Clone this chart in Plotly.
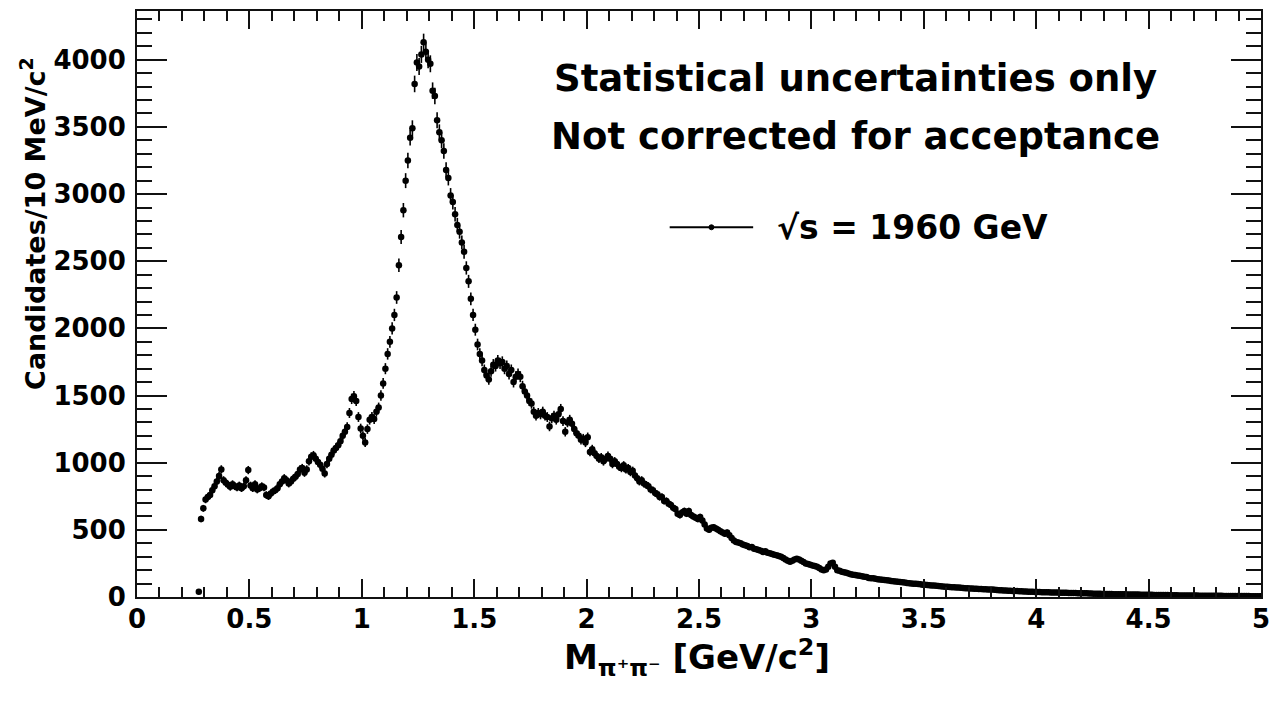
import numpy as np
import plotly.graph_objects as go

# Binning of the pi+pi- invariant-mass histogram (10 MeV bins)
bin_start = 0.275      # centre of the first filled bin [GeV/c^2]
bin_width = 0.01

# Candidates per bin, grouped by mass region
counts_threshold = [  # 0.275 - 0.995
    40,
    580, 660, 725, 745, 760, 795, 825, 860, 900, 950,
    870, 850, 835, 820, 840, 825, 815, 830, 810, 825,
    870, 945, 830, 810, 840, 800, 810, 825, 815, 760,
    750, 770, 785, 795, 810, 840, 860, 885, 870, 845,
    860, 880, 895, 915, 950, 960, 925, 950, 1010, 1045,
    1055, 1030, 1005, 985, 955, 920, 990, 1030, 1060, 1090,
    1110, 1130, 1160, 1200, 1230, 1265, 1370, 1475, 1495, 1460,
    1340, 1255,
]
counts_f2 = [  # 1.005 - 1.995
    1200, 1150, 1250, 1320, 1340, 1325, 1380, 1410, 1500, 1590,
    1700, 1810, 1900, 2000, 2100, 2230, 2470, 2680, 2880, 3100,
    3250, 3420, 3490, 3820, 3980, 3950, 4040, 4130, 4060, 4000,
    3970, 3770, 3730, 3550, 3460, 3400, 3320, 3180, 3120, 2990,
    2940, 2850, 2770, 2720, 2640, 2570, 2450, 2350, 2220, 2100,
    1990, 1880, 1810, 1760, 1690, 1650, 1620, 1680, 1730, 1720,
    1760, 1740, 1750, 1700, 1720, 1660, 1690, 1600, 1640, 1660,
    1640, 1570, 1530, 1500, 1460, 1440, 1380, 1350, 1370, 1360,
    1380, 1350, 1340, 1270, 1330, 1350, 1320, 1360, 1400, 1310,
    1230, 1300, 1320, 1290, 1250, 1220, 1200, 1170, 1180, 1150,
]
counts_continuum = [  # 2.005 - 2.995
    1190, 1080, 1100, 1070, 1050, 1030, 1040, 1010, 1030, 1050,
    1030, 990, 1010, 990, 970, 960, 980, 950, 960, 930,
    940, 905, 885, 860, 870, 845, 835, 825, 800, 795,
    775, 765, 745, 745, 715, 715, 695, 685, 665, 655,
    620, 610, 630, 640, 620, 640, 610, 600, 590, 580,
    595, 570, 540, 510, 500, 515, 520, 510, 500, 490,
    480, 470, 480, 460, 440, 420, 410, 405, 400, 390,
    385, 380, 370, 372, 360, 355, 350, 345, 335, 340,
    330, 325, 320, 315, 310, 305, 300, 290, 280, 270,
    262, 270, 280, 285, 280, 270, 260, 250, 245, 240,
]
counts_jpsi = [  # 3.005 - 3.495
    235, 230, 225, 215, 205, 200, 205, 225, 250, 255,
    225, 200, 195, 188, 185, 180, 175, 170, 165, 163,
    160, 158, 155, 150, 148, 142, 140, 139, 136, 133,
    130, 128, 126, 125, 122, 120, 118, 115, 113, 112,
    110, 108, 105, 103, 101, 99, 98, 96, 94, 92,
]
counts_tail = [  # 3.505 - 4.995
    91, 89, 88, 86, 85, 83, 82, 80, 79, 77,
    76, 75, 73, 72, 71, 70, 68, 67, 66, 65,
    64, 63, 62, 61, 60, 59, 58, 57, 56, 55,
    55, 54, 52, 51, 50, 49, 48, 47, 46, 45,
    44, 44, 43, 42, 41, 41, 40, 39, 39, 38,
    38, 37, 36, 36, 35, 35, 34, 34, 33, 33,
    32, 32, 31, 31, 30, 30, 29, 29, 28, 28,
    27, 27, 27, 26, 26, 25, 25, 24, 24, 23,
    23, 23, 22, 22, 21, 21, 21, 20, 20, 20,
    19, 19, 19, 18, 18, 18, 17, 17, 17, 16,
    16, 16, 15, 15, 15, 15, 14, 14, 14, 13,
    13, 13, 13, 12, 12, 12, 12, 11, 11, 11,
    11, 11, 10, 10, 10, 10, 10, 9, 9, 9,
    9, 9, 9, 8, 8, 8, 8, 8, 8, 7,
    7, 7, 7, 7, 7, 6, 6, 6, 6, 6,
]

counts = np.array(counts_threshold + counts_f2 + counts_continuum
                  + counts_jpsi + counts_tail, dtype=float)
mass = bin_start + bin_width * np.arange(counts.size)
stat_err = np.sqrt(counts)

FONT = "DejaVu Sans"
INK = "#111111"

fig = go.Figure()
fig.add_trace(go.Scatter(
    x=mass, y=counts, mode="markers",
    marker=dict(symbol="circle", size=6.5, color="black"),
    error_y=dict(type="data", array=stat_err, thickness=1.6, width=0, color="black"),
    showlegend=False,
    hovertemplate="M=%{x:.3f} GeV/c²<br>%{y:.0f} candidates<extra></extra>",
))

axis_common = dict(
    showline=True, linecolor=INK, linewidth=2, mirror="allticks",
    ticks="inside", tickcolor=INK, tickwidth=2,
    showgrid=False, zeroline=False,
    tickfont=dict(family=FONT, size=26, color="black", weight="bold"),
)

fig.update_xaxes(
    range=[0, 5], tick0=0, dtick=0.5, ticklen=18,
    minor=dict(ticks="inside", dtick=0.1, ticklen=10, tickcolor=INK, tickwidth=2, showgrid=False),
    ticklabelstandoff=-2,
    **axis_common,
)
fig.update_yaxes(
    range=[0, 4363], tick0=0, dtick=500, ticklen=30,
    minor=dict(ticks="inside", dtick=100, ticklen=15, tickcolor=INK, tickwidth=2, showgrid=False),
    ticklabelstandoff=4,
    **axis_common,
)

# plot-area geometry in pixels, used to place the free-standing texts
L, R, T, B = 137, 1268, 9, 597
def px(xp):
    return (xp - L) / (R - L)
def py(yp):
    return (B - yp) / (B - T)

bold = dict(family=FONT, color="black", weight="bold")

fig.add_annotation(
    text="Statistical uncertainties only", xref="paper", yref="paper",
    x=px(860), y=py(77), xanchor="center", yanchor="middle", showarrow=False,
    font=dict(size=37, **bold),
)
fig.add_annotation(
    text="Not corrected for acceptance", xref="paper", yref="paper",
    x=px(860), y=py(135), xanchor="center", yanchor="middle", showarrow=False,
    font=dict(size=37, **bold),
)

# legend entry: line with a small marker, followed by the label
fig.add_shape(type="line", xref="paper", yref="paper",
              x0=px(673), x1=px(757), y0=py(226), y1=py(226),
              line=dict(color="black", width=2))
fig.add_shape(type="circle", xref="paper", yref="paper",
              x0=px(712.5), x1=px(717.5), y0=py(228.5), y1=py(223.5),
              line=dict(color="black", width=1), fillcolor="black")
fig.add_annotation(
    text="√s = 1960 GeV", xref="paper", yref="paper",
    x=px(779), y=py(226), xanchor="left", yanchor="middle", showarrow=False,
    font=dict(size=33, **bold),
)

# axis titles
fig.add_annotation(
    text="Candidates/10 MeV/c<sup>2</sup>", xref="paper", yref="paper",
    x=px(32), y=py(222), xanchor="center", yanchor="middle", textangle=-90,
    showarrow=False, font=dict(size=27, **bold),
)
fig.add_annotation(
    text="M<sub>π⁺π⁻</sub> [GeV/c<sup>2</sup>]", xref="paper", yref="paper",
    x=px(700), y=py(658), xanchor="center", yanchor="middle",
    showarrow=False, font=dict(size=34, **bold),
)

fig.update_layout(
    width=1279, height=703,
    margin=dict(l=L, r=1279 - R, t=T, b=703 - B),
    paper_bgcolor="white", plot_bgcolor="white",
)

fig.write_html("out.html")
